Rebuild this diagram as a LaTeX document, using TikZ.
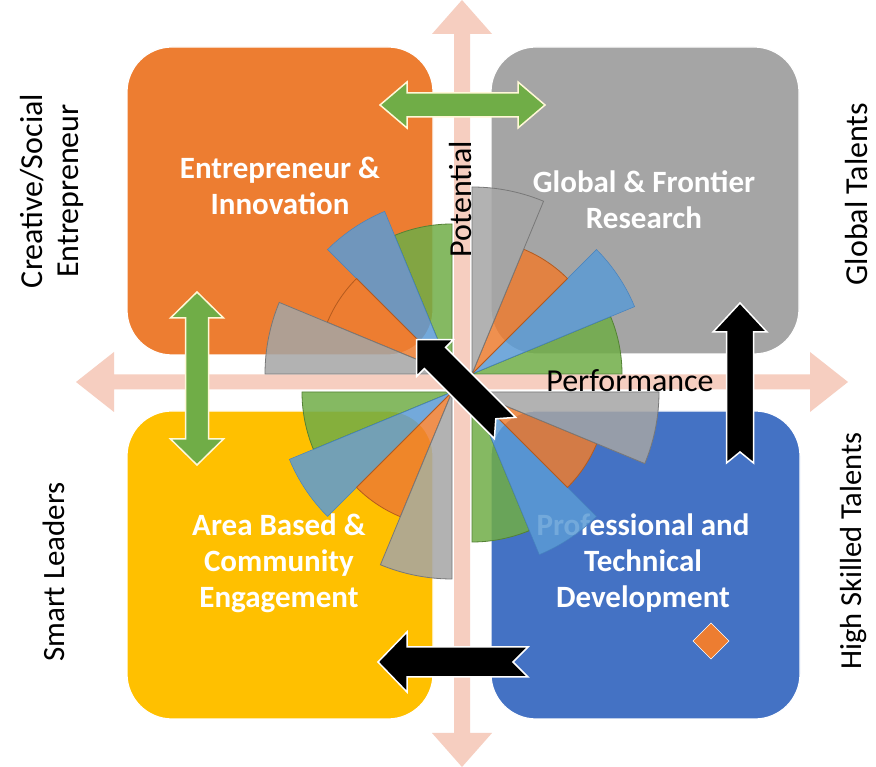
\documentclass[tikz,border=0pt]{standalone}
\usepackage{fontspec}
\setmainfont{Carlito}
\definecolor{qorange}{RGB}{237,125,49}
\definecolor{qgray}{RGB}{165,165,165}
\definecolor{qyellow}{RGB}{255,192,0}
\definecolor{qblue}{RGB}{68,114,196}
\definecolor{axispink}{RGB}{246,206,192}
\definecolor{sgreen}{RGB}{112,173,71}
\definecolor{sblue}{RGB}{91,155,213}
\definecolor{dgreen}{RGB}{84,130,53}
\definecolor{dblue}{RGB}{70,130,190}
\definecolor{dorange}{RGB}{180,90,30}
\definecolor{dgray}{RGB}{120,120,120}
\definecolor{cream}{RGB}{255,248,215}
% single block arrow with notched tail: x,y of tail centre, angle, length, head length, half shaft, half head, notch, style
\newcommand\blkarrow[9]{%
  \begin{scope}[shift={(#1,#2)},rotate=#3]
    \path[#9] (0,#6) -- (#4-#5,#6) -- (#4-#5,#7) -- (#4,0) -- (#4-#5,-#7)
      -- (#4-#5,-#6) -- (0,-#6) -- (#8,0) -- cycle;
  \end{scope}}
% double block arrow: centre x,y, angle, half length, head length, half shaft, half head, style
\newcommand\dblarrow[8]{%
  \begin{scope}[shift={(#1,#2)},rotate=#3]
    \path[#8] (-#4,0) -- (-#4+#5,#7) -- (-#4+#5,#6) -- (#4-#5,#6) -- (#4-#5,#7)
      -- (#4,0) -- (#4-#5,-#7) -- (#4-#5,-#6) -- (-#4+#5,-#6) -- (-#4+#5,-#7) -- cycle;
  \end{scope}}
\tikzset{
  quad/.style={rounded corners=45pt, draw=white, line width=1.2pt},
  boxtext/.style={text=white, align=center, font=\bfseries\fontsize{31}{36}\selectfont},
  sidetext/.style={text=black, align=center, rotate=90, font=\fontsize{32}{36}\selectfont},
  axistext/.style={text=black, font=\fontsize{32}{37}\selectfont},
  axisarrow/.style={fill=axispink},
  greenarrow/.style={fill=sgreen, draw=cream, line width=1.5pt, line join=miter},
  blackarrow/.style={fill=black, draw=white, line width=1.5pt, line join=miter},
  secgreen/.style={fill=sgreen, fill opacity=0.85, draw=dgreen, line width=0.8pt},
  secblue/.style={fill=sblue, fill opacity=0.85, draw=dblue, line width=0.5pt},
  secorange/.style={fill=qorange, fill opacity=0.85, draw=dorange, line width=0.8pt},
  secgray/.style={fill=qgray, fill opacity=0.85, draw=dgray, line width=0.8pt},
}
\begin{document}
\begin{tikzpicture}[x=1pt,y=1pt]
\useasboundingbox (0,0) rectangle (876,767);
\fill[white] (0,0) rectangle (876,767);
% axes
\dblarrow{462}{383.5}{90}{383.5}{34}{8}{30}{axisarrow}
\dblarrow{462}{385}{0}{386}{38}{7.5}{30}{axisarrow}
% quadrants
\path[quad, fill=qorange] (127,412) rectangle (433,720);
\path[quad, fill=qgray] (491,413) rectangle (799,720);
\path[quad, fill=qyellow] (127,48) rectangle (433,356);
\path[quad, fill=qblue] (491,48) rectangle (800,356);
% box texts
\node[boxtext] (ei) at (280,581) {Entrepreneur \&\\Innovation};
\node[boxtext] (gf) at (644,567) {Global \& Frontier\\Research};
\node[boxtext] (ab) at (279,204) {Area Based \&\\Community\\Engagement};
\node[boxtext] (pt) at (643,204) {Professional and\\Technical\\Development};
% rose sectors
\foreach \cx/\cy/\b in {472/393/0, 452/393/90, 452/375/180, 472/375/270} {
  \path[secgreen] (\cx,\cy) -- ++(\b:150) arc[start angle=\b, delta angle=22.5, radius=150] -- cycle;
  \path[secblue] (\cx,\cy) -- ++(\b+22.5:176) arc[start angle=\b+22.5, delta angle=22.5, radius=176] -- cycle;
  \path[secorange] (\cx,\cy) -- ++(\b+45:135) arc[start angle=\b+45, delta angle=22.5, radius=135] -- cycle;
  \path[secgray] (\cx,\cy) -- ++(\b+67.5:187) arc[start angle=\b+67.5, delta angle=22.5, radius=187] -- cycle;
}
% axis labels
\node[axistext, rotate=90] (pot) at (461,568) {Potential};
\node[axistext, anchor=base] (perf) at (630,375) {Performance};
% side labels
\node[sidetext] (cse) at (52,576) {Creative/Social\\Entrepreneur};
\node[sidetext] (gt) at (856,573) {Global Talents};
\node[sidetext, font=\fontsize{31}{36}\selectfont] (sl) at (54,195) {Smart Leaders};
\node[sidetext, font=\fontsize{30.5}{36}\selectfont] (hst) at (854,216) {High Skilled Talents};
% green double arrows
\dblarrow{462.5}{662}{0}{82.5}{27}{12}{23}{greenarrow}
\dblarrow{197}{388.5}{90}{86.5}{26}{11.5}{26.5}{greenarrow}
% black arrows
\blkarrow{505}{339}{135}{125}{26}{15}{26}{13}{blackarrow}
\blkarrow{740}{304}{90}{160}{29}{13.5}{27}{11}{blackarrow}
\blkarrow{528}{105}{180}{150}{29}{15}{30}{15}{blackarrow}
% diamond
\path[fill=qorange, draw=white, line width=0.6pt] (711,144) -- (729,126) -- (711,108) -- (693,126) -- cycle;
\end{tikzpicture}
\end{document}
